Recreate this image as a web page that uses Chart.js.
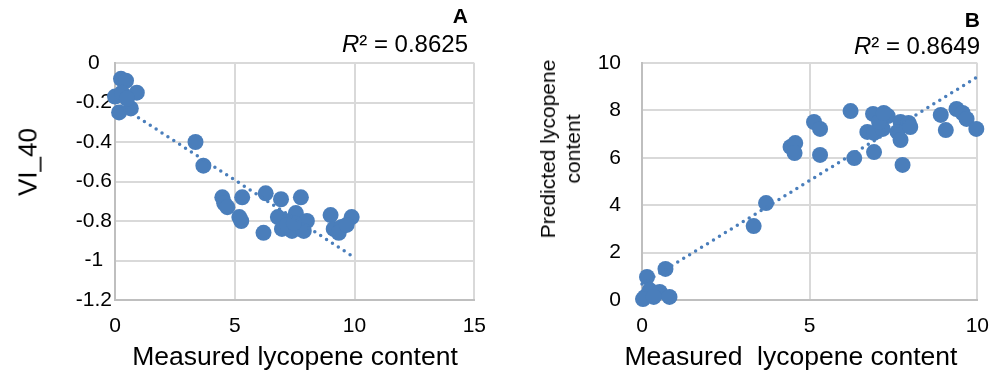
<!DOCTYPE html>
<html>
<head>
<meta charset="utf-8">
<script src="https://cdn.jsdelivr.net/npm/chart.js@4.4.1/dist/chart.umd.min.js"></script>
<style>
    body { margin: 0; background: #fff; font-family: Arial, "Liberation Sans", sans-serif; color: #000; }
    #wrap { position: relative; width: 1003px; height: 376px; overflow: hidden; }
    canvas { position: absolute; top: 0; }
    .tag { position: absolute; font-weight: bold; font-size: 21px; line-height: 1; }
    .r2 { position: absolute; font-size: 24px; line-height: 1; white-space: nowrap; }
    .ytitle { position: absolute; line-height: 25px; white-space: nowrap; text-align: center;
              transform: translate(-50%, -50%) rotate(-90deg); }
    .xtitle { position: absolute; font-size: 26.5px; line-height: 1; white-space: pre;
              transform: translate(-50%, -50%); }
</style>
</head>
<body>
<div id="wrap">
    <canvas id="chartA" width="500" height="376" style="left:0"></canvas>
    <canvas id="chartB" width="503" height="376" style="left:500px"></canvas>

    <div class="tag" style="right:535px; top:5px">A</div>
    <div class="r2" style="right:535px; top:32px"><i>R</i>² = 0.8625</div>
    <div class="ytitle" style="left:28px; top:162px; font-size:26px">VI_40</div>
    <div class="xtitle" style="left:295px; top:356px">Measured lycopene content</div>

    <div class="tag" style="right:23px; top:9px">B</div>
    <div class="r2" style="right:23px; top:34px"><i>R</i>² = 0.8649</div>
    <div class="ytitle" style="left:560px; top:149px; font-size:21px">Predicted lycopene<br>content</div>
    <div class="xtitle" style="left:791px; top:356px">Measured  lycopene content</div>
</div>

<script>
// chart A: measured lycopene vs VI_40
const measuredA = [0.0, 0.17, 0.25, 0.46, 0.91, 0.66, 0.29, 0.5, 3.36, 3.69, 4.48, 4.56, 4.69, 5.31, 5.27, 5.19,
    6.29, 6.2, 6.93, 6.8, 6.97, 7.26, 7.39, 7.55, 7.76, 7.68, 8.01, 7.88, 7.18, 9.0, 9.13, 9.46, 9.88, 9.34, 9.67, 7.47];
const vi40 = [-0.17, -0.25, -0.08, -0.09, -0.15, -0.23, -0.15, -0.18, -0.4, -0.52, -0.68, -0.71, -0.73, -0.68, -0.80, -0.78,
    -0.66, -0.86, -0.69, -0.78, -0.84, -0.80, -0.85, -0.76, -0.68, -0.83, -0.80, -0.85, -0.82, -0.77, -0.84, -0.83, -0.78, -0.86, -0.82, -0.81];
const trendAx = [0, 10];
const trendAy = [-0.2, -0.985];

// chart B: measured vs predicted lycopene
const measuredB = [0.09, 0.15, 0.23, 0.53, 0.82, 0.7, 0.03, 0.35, 3.33, 3.7, 4.43, 4.57, 4.55, 5.13, 5.31, 5.31,
    6.22, 6.33, 6.89, 7.33, 6.72, 6.92, 7.18, 6.92, 7.71, 7.95, 7.62, 8.0, 7.71, 7.77, 8.91, 9.06, 9.38, 9.56, 9.68, 9.97, 7.07, 7.21];
const predicted = [0.13, 0.97, 0.42, 0.34, 0.13, 1.31, 0.04, 0.13, 3.12, 4.09, 6.46, 6.62, 6.2, 7.51, 7.22, 6.12,
    7.97, 5.99, 7.85, 7.76, 7.09, 7.05, 7.22, 6.24, 7.51, 7.47, 7.09, 7.3, 6.75, 5.7, 7.81, 7.17, 8.06, 7.89, 7.64, 7.22, 7.51, 7.89];
const trendBx = [0, 10];
const trendBy = [0.67, 9.41];

const xTicksA = [0, 5, 10, 15];
const yTicksA = [0, -0.2, -0.4, -0.6, -0.8, -1, -1.2];
const xTicksB = [0, 5, 10];
const yTicksB = [0, 2, 4, 6, 8, 10];

const pointColor = '#4A7EBB';
const tickFont = { family: 'Arial, "Liberation Sans", sans-serif', size: 21 };

function pairs(xs, ys) {
    return xs.map((x, i) => ({ x: x, y: ys[i] }));
}

function makeChart(id, cfg) {
    const ctx = document.getElementById(id).getContext('2d');
    return new Chart(ctx, {
        type: 'scatter',
        data: {
            datasets: [
                {
                    data: pairs(cfg.trendX, cfg.trendY),
                    showLine: true,
                    pointRadius: 0,
                    borderColor: pointColor,
                    borderWidth: 3.5,
                    borderDash: [0, 7],
                    borderCapStyle: 'round',
                    clip: false,
                    order: 0
                },
                {
                    data: pairs(cfg.xs, cfg.ys),
                    pointRadius: 8,
                    pointBackgroundColor: pointColor,
                    pointBorderColor: pointColor,
                    pointBorderWidth: 0,
                    clip: false,
                    order: 1
                }
            ]
        },
        options: {
            responsive: false,
            animation: false,
            layout: { padding: { top: 63, right: cfg.padRight, left: 0, bottom: 0 } },
            plugins: { legend: { display: false }, tooltip: { enabled: false } },
            scales: {
                x: {
                    type: 'linear',
                    min: cfg.xTicks[0],
                    max: cfg.xTicks[cfg.xTicks.length - 1],
                    afterBuildTicks: s => { s.ticks = cfg.xTicks.map(v => ({ value: v })); },
                    afterFit: s => { s.height = 76; },
                    grid: { color: '#d9d9d9', lineWidth: 2, drawTicks: false },
                    border: { color: '#bfbfbf', width: 2 },
                    ticks: { font: tickFont, color: '#000', padding: 14, maxRotation: 0 }
                },
                y: {
                    type: 'linear',
                    min: Math.min(...cfg.yTicks),
                    max: Math.max(...cfg.yTicks),
                    afterBuildTicks: s => { s.ticks = cfg.yTicks.slice().sort((a, b) => a - b).map(v => ({ value: v })); },
                    afterFit: s => { s.width = cfg.yWidth; },
                    grid: { color: '#d9d9d9', lineWidth: 2, drawTicks: false },
                    border: { color: '#bfbfbf', width: 2 },
                    ticks: {
                        font: tickFont,
                        color: '#000',
                        padding: cfg.yPad,
                        crossAlign: cfg.yAlign,
                        callback: v => String(Math.round(v * 10) / 10)
                    }
                }
            }
        }
    });
}

makeChart('chartA', {
    xs: measuredA, ys: vi40, trendX: trendAx, trendY: trendAy,
    xTicks: xTicksA, yTicks: yTicksA,
    yWidth: 115, yPad: 3, yAlign: 'center', padRight: 24
});

makeChart('chartB', {
    xs: measuredB, ys: predicted, trendX: trendBx, trendY: trendBy,
    xTicks: xTicksB, yTicks: yTicksB,
    yWidth: 142, yPad: 21, yAlign: 'near', padRight: 20
});
</script>
</body>
</html>
